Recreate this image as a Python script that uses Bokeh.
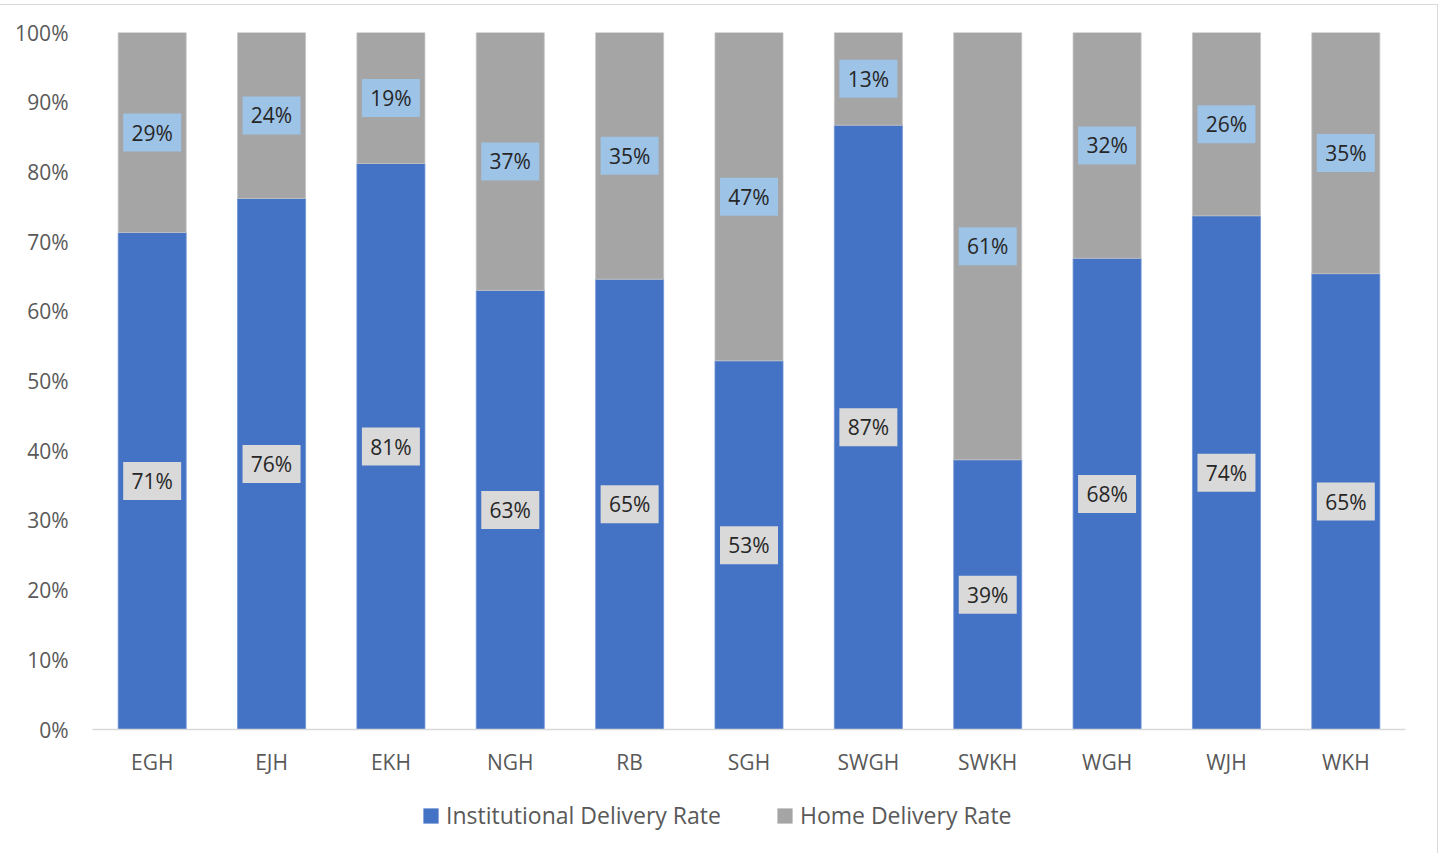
from bokeh.plotting import figure
from bokeh.layouts import column
from bokeh.models import (ColumnDataSource, FactorRange, Range1d, FixedTicker,
                          NumeralTickFormatter, Legend, LegendItem)
from bokeh.core.properties import value
from bokeh.embed import file_html
from bokeh.resources import INLINE

categories = ["EGH", "EJH", "EKH", "NGH", "RB", "SGH", "SWGH", "SWKH", "WGH", "WJH", "WKH"]
institutional = [71.3, 76.2, 81.2, 63.0, 64.6, 52.9, 86.7, 38.7, 67.6, 73.7, 65.4]
home = [round(100 - v, 1) for v in institutional]
series_names = ["Institutional Delivery Rate", "Home Delivery Rate"]
y_ticks = [0, 0.1, 0.2, 0.3, 0.4, 0.5, 0.6, 0.7, 0.8, 0.9, 1.0]

BLUE = "#4472C4"
GRAY = "#A5A5A5"
FONT = "Open Sans"

inst = [v / 100 for v in institutional]
hom = [v / 100 for v in home]
src = ColumnDataSource(dict(
    cat=categories,
    inst=inst,
    home=hom,
    zero=[0.0] * len(categories),
    top=[a + b for a, b in zip(inst, hom)],
    inst_mid=[a / 2 for a in inst],
    home_mid=[a + b / 2 for a, b in zip(inst, hom)],
    inst_lbl=[f"{round(v):.0f}%" for v in institutional],
    home_lbl=[f"{round(v):.0f}%" for v in home],
))

p = figure(frame_width=1313, frame_height=697, x_range=FactorRange(*categories),
           y_range=Range1d(0, 1), output_backend="svg", toolbar_location=None,
           min_border_left=92, min_border_right=32, min_border_top=27,
           min_border_bottom=0)
p.outline_line_color = None
p.grid.visible = False
p.background_fill_color = "white"
p.border_fill_color = "white"

p.vbar(x="cat", bottom="zero", top="inst", width=0.57, source=src,
       fill_color=BLUE, line_color="#6f93d4", line_width=0.8)
p.vbar(x="cat", bottom="inst", top="top", width=0.57, source=src,
       fill_color=GRAY, line_color="#c4c4c4", line_width=0.8)

# data label boxes
p.rect(x="cat", y="inst_mid", width=58, height=38, width_units="screen",
       height_units="screen", source=src, fill_color="#D9D9D9", line_color=None)
p.rect(x="cat", y="home_mid", width=58, height=38, width_units="screen",
       height_units="screen", source=src, fill_color="#9DC3E6", line_color=None)
p.text(x="cat", y="inst_mid", text="inst_lbl", source=src, text_align="center",
       text_baseline="middle", text_font=value(FONT), text_font_size="21px",
       text_color="#262626")
p.text(x="cat", y="home_mid", text="home_lbl", source=src, text_align="center",
       text_baseline="middle", text_font=value(FONT), text_font_size="21px",
       text_color="#262626")

# axes
p.yaxis.ticker = FixedTicker(ticks=y_ticks)
p.yaxis.formatter = NumeralTickFormatter(format="0%")
p.yaxis.axis_line_color = None
p.yaxis.major_tick_line_color = None
p.yaxis.minor_tick_line_color = None
p.yaxis.major_label_text_font = FONT
p.yaxis.major_label_text_font_size = "21px"
p.yaxis.major_label_text_color = "#595959"
p.yaxis.major_label_standoff = 18

p.xaxis.axis_line_color = "#D9D9D9"
p.xaxis.axis_line_width = 1.5
p.xaxis.major_tick_line_color = None
p.xaxis.minor_tick_line_color = None
p.xaxis.major_label_text_font = FONT
p.xaxis.major_label_text_font_size = "21px"
p.xaxis.major_label_text_color = "#595959"
p.xaxis.major_label_standoff = 12

# legend strip below the chart (zero-size bars only carry the legend swatches)
pl = figure(frame_width=1313, frame_height=78, x_range=Range1d(0, 1),
            y_range=Range1d(0, 1), output_backend="svg", toolbar_location=None,
            min_border_left=92, min_border_right=32, min_border_top=0,
            min_border_bottom=0)
pl.axis.visible = False
pl.grid.visible = False
pl.outline_line_color = None
pl.border_fill_color = "white"
g1 = pl.vbar(x="inst", bottom="zero", top="zero", width=0.0, source=src,
             fill_color=BLUE, line_color=None)
g2 = pl.vbar(x="inst", bottom="zero", top="zero", width=0.0, source=src,
             fill_color=GRAY, line_color=None)
legend = Legend(items=[LegendItem(label=series_names[0], renderers=[g1]),
                       LegendItem(label=series_names[1], renderers=[g2])],
                orientation="horizontal", location=(329, 25),
                label_text_font=FONT, label_text_font_size="23px",
                label_text_color="#595959", glyph_width=19, glyph_height=19,
                spacing=54, label_standoff=6, border_line_color=None,
                background_fill_alpha=0, margin=0, padding=0)
pl.add_layout(legend, "center")

layout = column(p, pl, spacing=0)
layout.styles = {"margin-top": "4px", "border-top": "1px solid #D9D9D9",
                 "border-right": "1px solid #D9D9D9"}

open("out.html", "w").write(file_html(layout, INLINE))
